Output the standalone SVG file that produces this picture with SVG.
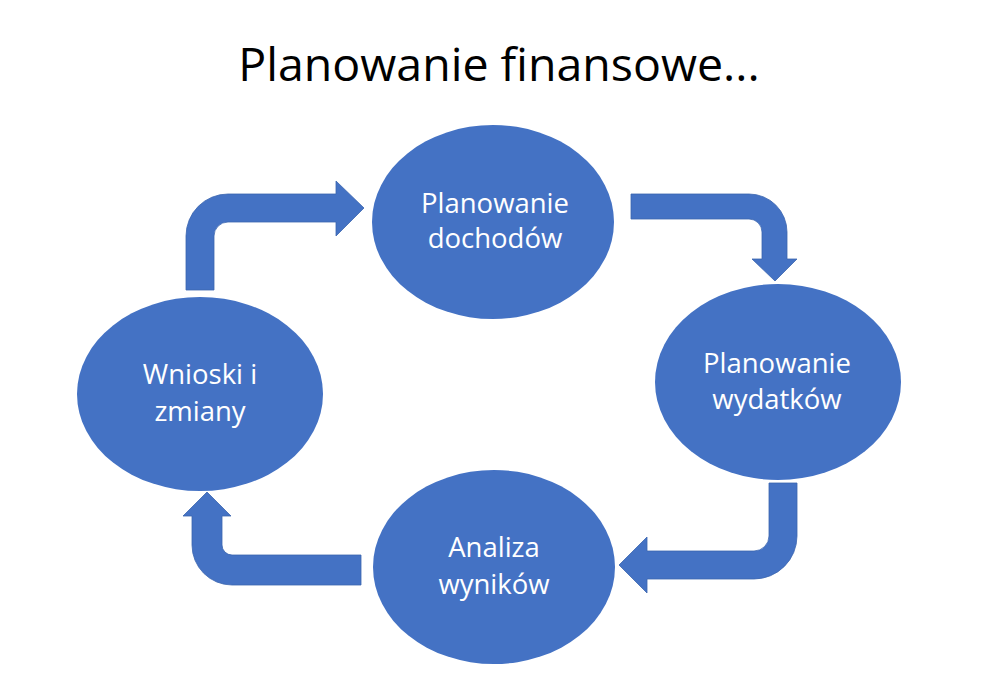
<svg xmlns="http://www.w3.org/2000/svg" width="1005" height="674" viewBox="0 0 1005 674">
<style>
.bg{fill:#ffffff}
.node{fill:#4472C4}
.arrow{fill:#4472C4;stroke:#3A64AE;stroke-width:0.8}
.lbl{font-family:"Open Sans","Noto Sans","Liberation Sans",sans-serif;font-size:27.5px;fill:#ffffff;text-anchor:middle}
.title{font-family:"Open Sans","Noto Sans","Liberation Sans",sans-serif;font-size:46.5px;fill:#000000;text-anchor:middle}
</style>
<rect class="bg" x="0" y="0" width="1005" height="674"/>
<text class="title" x="499" y="81">Planowanie finansowe...</text>
<g id="connectors">
<path class="arrow" d="M186,290 L186,236 A42,42 0 0 1 228,194 L336,194 L336,181 L364,208 L336,236 L336,222 L228,222 A14,14 0 0 0 214,236 L214,290 Z"/>
<path class="arrow" d="M631,194 L749,194 A38,38 0 0 1 787,232 L787,259 L797,259 L775,281 L752,259 L762,259 L762,232 A13,13 0 0 0 749,219 L631,219 Z"/>
<path class="arrow" d="M769,483 L797,483 L797,536 A43,43 0 0 1 754,579 L647,579 L647,593 L619,565 L647,537 L647,551 L754,551 A15,15 0 0 0 769,536 Z"/>
<path class="arrow" d="M361,555 L361,585 L232,585 A40,40 0 0 1 192,545 L192,516 L183,516 L207,492 L231,516 L222,516 L222,545 A10,10 0 0 0 232,555 Z"/>
</g>
<g id="node-dochody">
<ellipse class="node" cx="493" cy="222" rx="121" ry="97"/>
<text class="lbl" x="495" y="213">Planowanie</text>
<text class="lbl" x="495" y="248">dochodów</text>
</g>
<g id="node-wydatki">
<ellipse class="node" cx="778" cy="382" rx="123" ry="98"/>
<text class="lbl" x="777" y="373">Planowanie</text>
<text class="lbl" x="777" y="409">wydatków</text>
</g>
<g id="node-analiza">
<ellipse class="node" cx="494" cy="567" rx="121" ry="97"/>
<text class="lbl" x="494" y="557">Analiza</text>
<text class="lbl" x="494" y="594">wyników</text>
</g>
<g id="node-wnioski">
<ellipse class="node" cx="200" cy="394" rx="123" ry="97"/>
<text class="lbl" x="200" y="384">Wnioski i</text>
<text class="lbl" x="200" y="421">zmiany</text>
</g>
</svg>
